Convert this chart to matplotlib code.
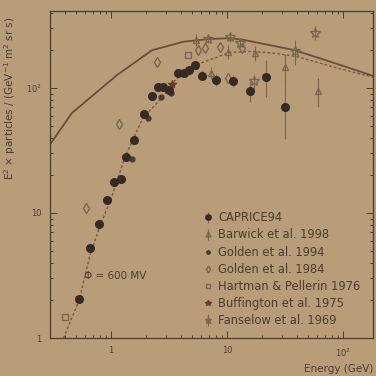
import numpy as np
import matplotlib
matplotlib.use("Agg")
import matplotlib.pyplot as plt

# values (energy in GeV, E^2 x flux)
caprice_e = [0.53, 0.66, 0.79, 0.92, 1.06, 1.22, 1.35, 1.58, 1.92, 2.25, 2.54, 2.8,
             3.16, 3.78, 4.26, 4.7, 5.3, 6.1, 8.0, 11.3, 15.8, 21.7, 31.6]
caprice_f = [2.05, 5.25, 8.2, 12.7, 17.7, 18.8, 28, 38, 62, 86, 102, 102,
             97, 132, 132, 140, 152, 125, 116, 113, 94, 122, 70]
caprice_lo = [0, 0, 0, 0, 0, 0, 0, 0, 0, 0, 0, 0,
              0, 0, 0, 0, 0, 10, 12, 12, 17, 38, 31]
caprice_hi = [0, 0, 0, 0, 0, 0, 0, 0, 0, 0, 0, 0,
              0, 0, 0, 0, 0, 12, 14, 14, 22, 45, 85]

barwick_e = [5.4, 7.3, 10.2, 17.5, 31.6, 61]
barwick_f = [243, 132, 194, 190, 147, 95]
barwick_err = [25, 15, 25, 25, 40, 25]

golden94_e = [1.52, 2.1, 2.7, 3.3]
golden94_f = [27, 58, 85, 91]

golden84_e = [0.61, 1.17, 2.5, 5.6, 6.5, 8.7, 10.2, 13.5]
golden84_f = [11, 51, 161, 200, 208, 211, 120, 210]

hartman_e = [0.40, 4.6]
hartman_f = [1.47, 185]

buffington_e = [3.35, 5.3, 8.0]
buffington_f = [108, 150, 116]

fanselow_e = [6.8, 10.6, 13.0, 17.0, 38.6, 57]
fanselow_f = [248, 255, 230, 113, 197, 275]
fanselow_err = [20, 20, 20, 15, 45, 35]

# interstellar (solid) and modulated (dashed) spectra
lis_e = [0.29, 0.46, 1.13, 2.25, 4.2, 7.0, 10.6, 13.7, 38.6, 100, 181]
lis_f = [34, 63, 127, 200, 234, 246, 250, 243, 200, 150, 125]
mod_e = [0.39, 0.53, 0.66, 0.8, 1.0, 1.32, 1.89, 2.8, 3.4, 4.3, 5.6, 8.3,
         10.5, 16.4, 25, 40, 100, 181]
mod_f = [1, 2.0, 4.6, 7.8, 13, 28, 58, 85, 110, 135, 155, 177,
         192, 196, 190, 178, 140, 122]

bg = "#b99d78"
ink = "#4a3c30"
soft = "#7a6650"

plt.rcParams["font.family"] = ["DejaVu Sans"]
fig = plt.figure(figsize=(3.76, 3.76), dpi=100, facecolor=bg)
ax = fig.add_axes([0.133, 0.101, 0.859, 0.870], facecolor=bg)
ax.set_xscale("log")
ax.set_yscale("log")

ax.plot(lis_e, lis_f, color="#6b4e38", lw=1.3)
ax.plot(mod_e, mod_f, color="#7a5a40", lw=1.0, ls=(0, (2, 1.5)))

h1 = ax.errorbar(caprice_e, caprice_f, yerr=[caprice_lo, caprice_hi], fmt="o", ms=5.5,
                 color="#342a26", ecolor=soft, elinewidth=0.8, capsize=0,
                 label="CAPRICE94")
h2 = ax.errorbar(barwick_e, barwick_f, yerr=barwick_err, fmt="^", ms=5, mfc="none",
                 mec=soft, ecolor=soft, elinewidth=0.8, capsize=0,
                 label="Barwick et al. 1998")
h3, = ax.plot(golden94_e, golden94_f, "o", ms=3.5, color="#4a3a32", ls="none",
              label="Golden et al. 1994")
h4, = ax.plot(golden84_e, golden84_f, "d", ms=5, mfc="none", mec=soft, ls="none",
              label="Golden et al. 1984")
h5, = ax.plot(hartman_e, hartman_f, "s", ms=4.5, mfc="none", mec=soft, ls="none",
              label="Hartman & Pellerin 1976")
h6, = ax.plot(buffington_e, buffington_f, "*", ms=6, color="#6a3a30", ls="none",
              label="Buffington et al. 1975")
h7 = ax.errorbar(fanselow_e, fanselow_f, yerr=fanselow_err, fmt="*", ms=7, mfc="none",
                 mec=soft, ecolor=soft, elinewidth=0.8, capsize=0,
                 label="Fanselow et al. 1969")

ax.set_xlim(0.298, 181)
ax.set_ylim(1, 413)

ax.set_xticks([1, 10, 100])
ax.set_xticklabels(["1", "10", "10$^2$"])
ax.set_yticks([1, 10, 100])
ax.set_yticklabels(["1", "10", "10$^2$"])
ax.tick_params(which="both", direction="in", top=True, right=True, colors=ink,
               labelsize=6, width=0.7)
ax.tick_params(which="major", length=5, pad=6)
ax.tick_params(which="minor", length=2.5)
for s in ax.spines.values():
    s.set_color(ink)
    s.set_linewidth(0.9)

ax.set_ylabel("E$^2$ × particles / (GeV$^{-1}$ m$^2$ sr s)", fontsize=7.5, color=ink)
ax.yaxis.set_label_coords(-0.099, 0.734)
ax.set_xlabel("Energy (GeV)", fontsize=7.5, color=ink, ha="right")
ax.xaxis.set_label_coords(1.0, -0.08)

ax.text(0.105, 0.19, "Φ = 600 MV", transform=ax.transAxes, fontsize=7.5,
        color=ink, va="center")

handles = [h1, h2, h3, h4, h5, h6, h7]
leg = ax.legend(handles=handles, loc="upper left", bbox_to_anchor=(0.455, 0.405),
                frameon=False, fontsize=8.3, labelspacing=0.36, handletextpad=0.35,
                handlelength=1.0, borderpad=0, markerscale=0.7)
for t in leg.get_texts():
    t.set_color(ink)

fig.savefig("out.png", dpi=100, facecolor=bg)
